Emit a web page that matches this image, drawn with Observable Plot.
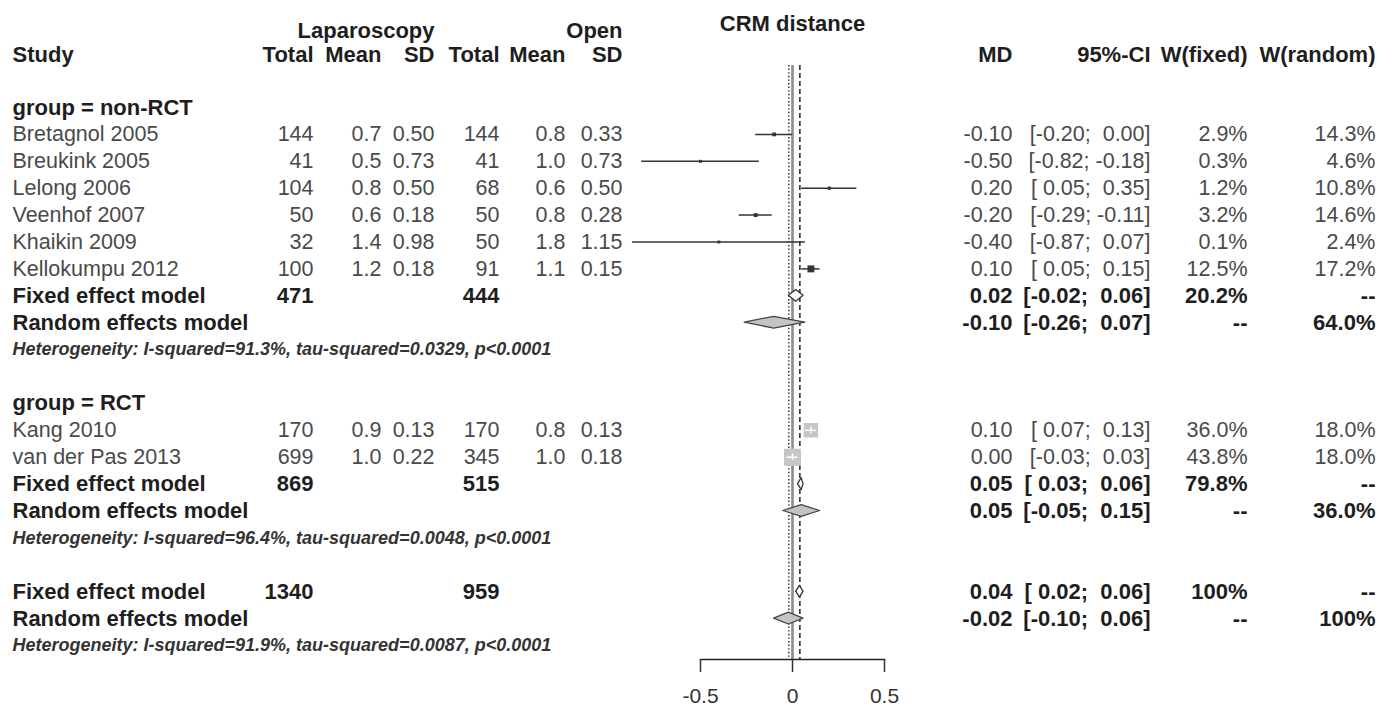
<!DOCTYPE html>
<html><head><meta charset="utf-8">
<script src="https://cdn.jsdelivr.net/npm/d3@7"></script>
<script src="https://cdn.jsdelivr.net/npm/@observablehq/plot@0.6"></script>
<style>
html,body{margin:0;padding:0;background:#fff;}
#chart{position:relative;width:1393px;height:713px;overflow:hidden;background:#fff;}
#chart svg{position:absolute;left:0;top:0;}
#chart svg text{white-space:pre;}
</style></head><body><div id="chart"></div>
<script>
// ---------------- data ----------------
const studies     = ["Bretagnol 2005","Breukink 2005","Lelong 2006","Veenhof 2007","Khaikin 2009","Kellokumpu 2012","Kang 2010","van der Pas 2013"];
const studyGroup  = ["non-RCT","non-RCT","non-RCT","non-RCT","non-RCT","non-RCT","RCT","RCT"];
const lapTotal    = [144, 41, 104, 50, 32, 100, 170, 699];
const lapMean     = [0.7, 0.5, 0.8, 0.6, 1.4, 1.2, 0.9, 1.0];
const lapSD       = [0.50, 0.73, 0.50, 0.18, 0.98, 0.18, 0.13, 0.22];
const openTotal   = [144, 41, 68, 50, 50, 91, 170, 345];
const openMean    = [0.8, 1.0, 0.6, 0.8, 1.8, 1.1, 0.8, 1.0];
const openSD      = [0.33, 0.73, 0.50, 0.28, 1.15, 0.15, 0.13, 0.18];
const md          = [-0.10, -0.50, 0.20, -0.20, -0.40, 0.10, 0.10, 0.00];
const ciLow       = [-0.20, -0.82, 0.05, -0.29, -0.87, 0.05, 0.07, -0.03];
const ciHigh      = [0.00, -0.18, 0.35, -0.11, 0.07, 0.15, 0.13, 0.03];
const wFixed      = [2.9, 0.3, 1.2, 3.2, 0.1, 12.5, 36.0, 43.8];
const wRandom     = [14.3, 4.6, 10.8, 14.6, 2.4, 17.2, 18.0, 18.0];

const summaryLabel = ["Fixed effect model","Random effects model","Fixed effect model","Random effects model","Fixed effect model","Random effects model"];
const summaryScope = ["non-RCT","non-RCT","RCT","RCT","overall","overall"];
const summaryType  = ["fixed","random","fixed","random","fixed","random"];
const summaryMD    = [0.02, -0.10, 0.05, 0.05, 0.04, -0.02];
const summaryLo    = [-0.02, -0.26, 0.03, -0.05, 0.02, -0.10];
const summaryHi    = [0.06, 0.07, 0.06, 0.15, 0.06, 0.06];
const summaryWF    = [20.2, null, 79.8, null, 100, null];
const summaryWR    = [null, 64.0, null, 36.0, null, 100];
const summaryLapN  = [471, null, 869, null, 1340, null];
const summaryOpenN = [444, null, 515, null, 959, null];

const scopes  = ["non-RCT","RCT","overall"];
const hetText = [
  "Heterogeneity: I-squared=91.3%, tau-squared=0.0329, p<0.0001",
  "Heterogeneity: I-squared=96.4%, tau-squared=0.0048, p<0.0001",
  "Heterogeneity: I-squared=91.9%, tau-squared=0.0087, p<0.0001"
];
const xTicks = [-0.5, 0, 0.5];
const forestTitle = "CRM distance";
const headTop = {lapSD: "Laparoscopy", openSD: "Open"};
const headCols = {study:"Study", lapTotal:"Total", lapMean:"Mean", lapSD:"SD", openTotal:"Total", openMean:"Mean", openSD:"SD", md:"MD", ci:"95%-CI", wf:"W(fixed)", wr:"W(random)"};

// ---------------- layout ----------------
const W = 1393, H = 713;
const FONT = "'Liberation Sans', Arial, Helvetica, sans-serif";
const colX = {study: 12, lapTotal: 313, lapMean: 381, lapSD: 434, openTotal: 499, openMean: 565, openSD: 622,
              md: 1012, ci: 1150, wf: 1247, wr: 1375};
const yScale = {domain: [0, 20], range: [107, 645], axis: null};
const ROW_TOP = -2.85, ROW_HEAD = -1.95, ROW_TITLE = -3.1;

// rows, built from the group structure
let row = 0;
const groupRows = [], studyRow = [], summaryRow = [], hetRows = [];
scopes.forEach((sc, si) => {
  if (sc !== "overall") {
    groupRows.push({text: "group = " + sc, row: row++});
    studies.forEach((s, i) => { if (studyGroup[i] === sc) studyRow[i] = row++; });
  }
  summaryScope.forEach((s, k) => { if (s === sc) summaryRow[k] = row++; });
  hetRows.push({text: hetText[si], row: row++});
  row++;
});

const f2 = v => v.toFixed(2);
const sgn = v => (v < 0 ? "-" : " ") + Math.abs(v).toFixed(2);
const ci = (lo, hi) => "[" + sgn(lo) + "; " + sgn(hi) + "]";
const pct = v => v == null ? "--" : (v === 100 ? "100%" : v.toFixed(1) + "%");

// ---------------- table cells ----------------
const cells = [];
const add = (row, col, text, style) => cells.push({row, col, text, style});
Object.entries(headTop).forEach(([c, t]) => add(ROW_TOP, c, t, "bold"));
Object.entries(headCols).forEach(([c, t]) => add(ROW_HEAD, c, t, "bold"));
groupRows.forEach(g => add(g.row, "study", g.text, "bold"));
studies.forEach((s, i) => {
  const r = studyRow[i];
  add(r, "study", s, "reg");
  add(r, "lapTotal", String(lapTotal[i]), "reg");
  add(r, "lapMean", lapMean[i].toFixed(1), "reg");
  add(r, "lapSD", f2(lapSD[i]), "reg");
  add(r, "openTotal", String(openTotal[i]), "reg");
  add(r, "openMean", openMean[i].toFixed(1), "reg");
  add(r, "openSD", f2(openSD[i]), "reg");
  add(r, "md", f2(md[i]), "reg");
  add(r, "ci", ci(ciLow[i], ciHigh[i]), "reg");
  add(r, "wf", pct(wFixed[i]), "reg");
  add(r, "wr", pct(wRandom[i]), "reg");
});
summaryLabel.forEach((lab, k) => {
  const r = summaryRow[k];
  add(r, "study", lab, "bold");
  if (summaryLapN[k] != null) add(r, "lapTotal", String(summaryLapN[k]), "bold");
  if (summaryOpenN[k] != null) add(r, "openTotal", String(summaryOpenN[k]), "bold");
  add(r, "md", f2(summaryMD[k]), "bold");
  add(r, "ci", ci(summaryLo[k], summaryHi[k]), "bold");
  add(r, "wf", pct(summaryWF[k]), "bold");
  add(r, "wr", pct(summaryWR[k]), "bold");
});
hetRows.forEach(h => add(h.row, "study", h.text, "het"));

const styles = {
  reg:  {fontSize: 21.5, fontWeight: "normal", fill: "#4a4a4a"},
  bold: {fontSize: 22, fontWeight: "bold", fill: "#1e1e1e"},
  het:  {fontSize: 18, fontWeight: "bold", fontStyle: "italic", fill: "#333"}
};
const tableMarks = [];
for (const [st, o] of Object.entries(styles)) {
  for (const anchor of ["start", "end"]) {
    const data = cells.filter(d => d.style === st && ((d.col === "study") === (anchor === "start")));
    if (!data.length) continue;
    tableMarks.push(Plot.text(data, {x: d => colX[d.col], y: "row", text: "text", textAnchor: anchor, lineAnchor: "middle", ...o}));
  }
}

const table = Plot.plot({
  width: W, height: H, margin: 0,
  style: {fontFamily: FONT, background: "transparent", overflow: "visible"},
  x: {type: "identity", axis: null},
  y: yScale,
  marks: tableMarks
});

// ---------------- forest ----------------
const rDomain = [0, d3.max(wFixed)];
const rRange = [1.6, 9.6];
const rFn = d3.scaleLinear(rDomain, rRange);
const X0 = 700, X1 = 884;
const pxPerUnit = (X1 - X0) / (xTicks[2] - xTicks[0]);
const studyData = studies.map((s, i) => {
  const side = Math.sqrt(Math.PI) * rFn(wFixed[i]);
  return {name: s, row: studyRow[i], md: md[i], lo: ciLow[i], hi: ciHigh[i], w: wFixed[i],
          inside: (ciHigh[i] - ciLow[i]) * pxPerUnit < side};
});
const HALF = 0.22;
const diamonds = summaryMD.flatMap((m, k) => [
  {id: k, type: summaryType[k], x: summaryLo[k], y1: summaryRow[k], y2: summaryRow[k]},
  {id: k, type: summaryType[k], x: m, y1: summaryRow[k] - HALF, y2: summaryRow[k] + HALF},
  {id: k, type: summaryType[k], x: summaryHi[k], y1: summaryRow[k], y2: summaryRow[k]}
]);
const overallFixed = summaryMD[summaryScope.findIndex((s, k) => s === "overall" && summaryType[k] === "fixed")];
const overallRandom = summaryMD[summaryScope.findIndex((s, k) => s === "overall" && summaryType[k] === "random")];

const forest = Plot.plot({
  width: W, height: H, marginLeft: X0, marginRight: W - X1, marginTop: 65, marginBottom: 54,
  style: {fontFamily: FONT, background: "transparent", overflow: "visible"},
  x: {domain: [xTicks[0], xTicks[2]]},
  y: yScale,
  r: {type: "linear", domain: rDomain, range: rRange},
  marks: [
    Plot.ruleX([0], {stroke: "#8c8c8c", strokeWidth: 2.6}),
    Plot.ruleX([overallRandom], {stroke: "#222", strokeWidth: 1.4, strokeDasharray: "1.4,2.2"}),
    Plot.ruleX([overallFixed], {stroke: "#333", strokeWidth: 1.6, strokeDasharray: "5,3"}),
    Plot.frame({anchor: "bottom", stroke: "#222", strokeWidth: 1.5}),
    Plot.axisX({ticks: xTicks, tickSize: 13, tickPadding: 16, tickFormat: d => String(d),
                fontSize: 21, label: null, color: "#333", strokeWidth: 1.5}),
    Plot.text([forestTitle], {y: () => ROW_TITLE, text: d => d, fontSize: 22, fontWeight: "bold", fill: "#1e1e1e", lineAnchor: "middle"}),
    Plot.dot(studyData.filter(d => !d.inside), {x: "md", y: "row", r: "w", symbol: "square", fill: "#333"}),
    Plot.ruleY(studyData.filter(d => !d.inside), {y: "row", x1: "lo", x2: "hi", stroke: "#333", strokeWidth: 1.5}),
    Plot.dot(studyData.filter(d => d.inside), {x: "md", y: "row", r: "w", symbol: "square", fill: "#c6c6c6"}),
    Plot.ruleY(studyData.filter(d => d.inside), {y: "row", x1: "lo", x2: "hi", stroke: "#fff", strokeWidth: 1.5}),
    Plot.ruleX(studyData.filter(d => d.inside), {x: "md", y1: d => d.row - 0.12, y2: d => d.row + 0.12, stroke: "#fff", strokeWidth: 1.5}),
    Plot.areaY(diamonds.filter(d => d.type === "fixed"), {x: "x", y1: "y1", y2: "y2", z: "id", fill: "#fff", stroke: "#333", strokeWidth: 1.3}),
    Plot.areaY(diamonds.filter(d => d.type === "random"), {x: "x", y1: "y1", y2: "y2", z: "id", fill: "#c4c4c4", stroke: "#444", strokeWidth: 1.3})
  ]
});

const el = document.getElementById("chart");
el.appendChild(table);
el.appendChild(forest);
</script></body></html>
